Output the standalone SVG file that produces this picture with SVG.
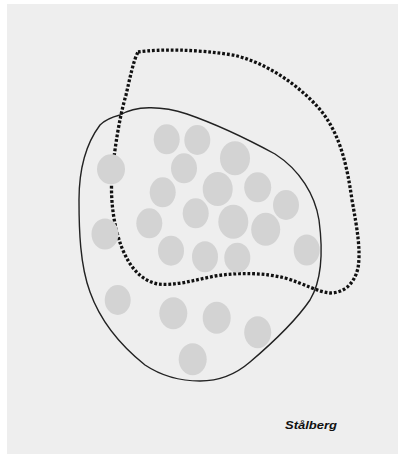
<svg xmlns="http://www.w3.org/2000/svg" width="398" height="454" viewBox="0 0 398 454">
<style>
.cell{fill:#d3d3d3}
.solid{fill:none;stroke:#222;stroke-width:1.4}
.dotted{fill:none;stroke:#111;stroke-width:3.3;stroke-dasharray:2.8 1.9}
.label{font-family:"Liberation Sans",Arial,sans-serif;font-size:11px;font-weight:bold;font-style:italic;fill:#111}
</style>
<rect x="0" y="0" width="398" height="454" fill="#ffffff"/>
<rect x="7" y="4" width="391" height="450" fill="#eeeeee"/>
<g id="connectors">
<path id="solid-region" class="solid" d="M120,115 C135,106 160,105 187,114 C210,122 240,135 275,154 C300,170 315,195 319,220 C323,250 322,280 310,300 C295,322 270,345 250,362 C235,375 220,381 200,381 C180,381 160,375 145,365 C120,345 100,320 90,292 C80,265 79,230 79,200 C79,170 85,145 100,125 C106,119 112,117 120,115 Z"/>
<path id="dotted-region" class="dotted" d="M138,52 C160,49 195,49 233,55 C265,62 300,85 322,112 C340,135 347,165 352,200 C357,228 361,250 358,268 C354,285 343,293 330,293 C318,292 305,284 285,278 C265,273 240,272 215,276 C195,280 175,286 158,284 C142,281 130,268 122,248 C114,228 110,200 112,175 C115,145 120,115 126,95 C130,78 133,62 138,52 Z"/>
</g>
<g id="cells">
<ellipse class="cell" cx="166.7" cy="139.3" rx="13" ry="15"/>
<ellipse class="cell" cx="197.3" cy="140" rx="13" ry="15"/>
<ellipse class="cell" cx="235" cy="158.3" rx="15" ry="17"/>
<ellipse class="cell" cx="184" cy="168.3" rx="13" ry="15"/>
<ellipse class="cell" cx="111" cy="169.3" rx="14" ry="15"/>
<ellipse class="cell" cx="162.7" cy="192.3" rx="13" ry="15"/>
<ellipse class="cell" cx="217.7" cy="189" rx="15" ry="17"/>
<ellipse class="cell" cx="257.7" cy="187.3" rx="13.5" ry="15"/>
<ellipse class="cell" cx="286" cy="205" rx="13" ry="15"/>
<ellipse class="cell" cx="195.7" cy="213.3" rx="13" ry="15"/>
<ellipse class="cell" cx="149.3" cy="223.3" rx="13" ry="15"/>
<ellipse class="cell" cx="233.3" cy="221.7" rx="15" ry="17"/>
<ellipse class="cell" cx="265.7" cy="229.3" rx="14.5" ry="16.5"/>
<ellipse class="cell" cx="105" cy="234" rx="13.5" ry="15.5"/>
<ellipse class="cell" cx="171" cy="250.7" rx="13" ry="15"/>
<ellipse class="cell" cx="205" cy="256.7" rx="13" ry="15.5"/>
<ellipse class="cell" cx="237.3" cy="257.7" rx="13" ry="15"/>
<ellipse class="cell" cx="306.7" cy="250" rx="13" ry="15.5"/>
<ellipse class="cell" cx="117.7" cy="300" rx="13" ry="15"/>
<ellipse class="cell" cx="173.3" cy="313.3" rx="14" ry="16"/>
<ellipse class="cell" cx="216.7" cy="317.7" rx="14" ry="16"/>
<ellipse class="cell" cx="257.7" cy="332.3" rx="13.5" ry="16"/>
<ellipse class="cell" cx="192.7" cy="359.3" rx="14" ry="16"/>
</g>
<text class="label" x="285" y="429" textLength="52" lengthAdjust="spacingAndGlyphs">Stålberg</text>
</svg>
